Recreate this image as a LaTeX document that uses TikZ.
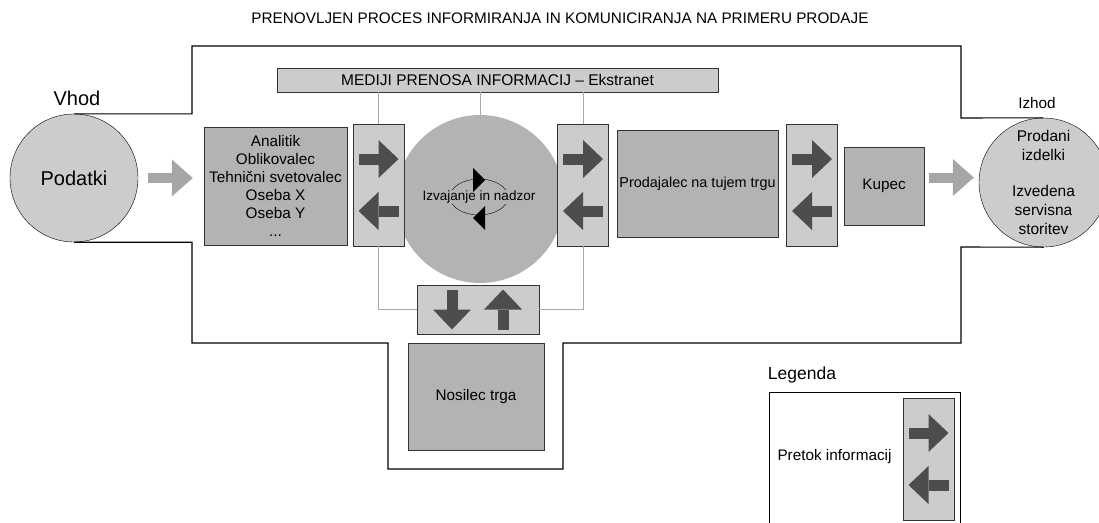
\documentclass[tikz,border=0pt]{standalone}
\usepackage{fontspec}
\setmainfont{Liberation Sans}
\usetikzlibrary{arrows.meta,calc}
\definecolor{lightfill}{HTML}{CCCCCC}
\definecolor{boxfill}{HTML}{B3B3B3}
\definecolor{flowgray}{HTML}{4D4D4D}
\definecolor{feedgray}{HTML}{A6A6A6}
\definecolor{wiregray}{HTML}{A8A8A8}
\tikzset{
  >=latex,
  every node/.style={font=\fontsize{15.3}{18}\selectfont, inner sep=0pt},
  actor/.style={draw=black!80, fill=boxfill, align=center},
  flowbox/.style={draw=black!80, fill=lightfill, minimum width=51pt, minimum height=122pt},
  endpoint/.style={circle, draw=black, fill=lightfill, align=center},
  flow/.style={draw=flowgray, line width=11pt, -{Triangle[length=20pt,width=38pt,line width=0pt]}},
  feed/.style={draw=feedgray, line width=10pt, -{Triangle[length=21pt,width=37pt,line width=0pt]}},
  wire/.style={draw=wiregray, line width=1pt}
}

\begin{document}
\begin{tikzpicture}[x=1pt,y=-1pt]
  \useasboundingbox (0,0) rectangle (1099,522);
  \node[anchor=base, font=\fontsize{15.3}{18}\selectfont] (title) at (560,23)
    {PRENOVLJEN PROCES INFORMIRANJA IN KOMUNICIRANJA NA PRIMERU PRODAJE};
  \node[endpoint, minimum size=128pt, font=\fontsize{20}{24}\selectfont] (podatki) at (74,178) {Podatki};
  \node[font=\fontsize{20}{24}\selectfont] (vhod) at (77,98) {Vhod};
  \node[endpoint, minimum size=129pt, font=\fontsize{15.5}{19}\selectfont] (izhod) at (1043.5,182.5)
    {Prodani\\izdelki\\[17pt]Izvedena\\servisna\\storitev};
  \node (izhodlbl) at (1037,103) {Izhod};

  \node[circle, fill=boxfill, minimum size=168pt] (hub) at (480,199) {};
  \coordinate (loop) at (479,197);
  \draw (loop) ellipse (29 and 18);
  \node[fill=boxfill, inner sep=1pt, font=\fontsize{13.5}{16}\selectfont] (nadzor) at (loop) {Izvajanje in nadzor};
  \fill ($(loop)+(-6,-29)$) -- ($(loop)+(6,-17)$) -- ($(loop)+(-6,-5)$) -- cycle;
  \fill ($(loop)+(6,9)$) -- ($(loop)+(-6,21)$) -- ($(loop)+(6,33)$) -- cycle;

  \node[draw=black!80, fill=lightfill, minimum width=441pt, minimum height=24pt,
    font=\fontsize{15.5}{18}\selectfont] (media) at (497.5,80) {MEDIJI PRENOSA INFORMACIJ – Ekstranet};
  \node[flowbox] (fl1) at (378.5,185) {};
  \node[flowbox] (fl2) at (583,185) {};
  \node[flowbox] (fl3) at (812,185) {};
  \node[flowbox, minimum width=122pt, minimum height=49pt] (fl4) at (478,309.5) {};

  \draw[wire] (media.south -| fl1) -- (fl1.north);
  \draw[wire] (fl1.south) |- (fl4.west);
  \draw[wire] (media.south -| fl2) -- (fl2.north);
  \draw[wire] (fl2.south) |- (fl4.east);
  \draw[wire] (media.south -| hub) -- (hub.north);

  \node[actor, minimum width=143pt, minimum height=118pt] (team) at (275.5,186)
    {Analitik\\Oblikovalec\\Tehnični svetovalec\\Oseba X\\Oseba Y\\...};
  \node[actor, minimum width=161pt, minimum height=107pt, font=\fontsize{14.4}{17}\selectfont] (seller)
    at (697.5,183.5) {Prodajalec na tujem trgu};
  \node[actor, minimum width=80pt, minimum height=78pt] (buyer) at (884,186) {Kupec};
  \node[actor, minimum width=136pt, minimum height=107pt] (holder) at (476,396.5) {Nosilec trga};

  \draw[line width=1.1pt] (podatki.north) -| (192,46) -| (961,118) -- (izhod.north);
  \draw[line width=1.1pt] (podatki.south) -| (192,343) -| (388,469) -| (563,343) -| (961,247) -- (izhod.south);

  \node[font=\fontsize{17.5}{20}\selectfont] (legtitle) at (802,375) {Legenda};
  \draw[line width=1pt] (769,530) |- (960,392) -- (960,530);
  \node (legtext) at (834.5,457) {Pretok informacij};
  \node[flowbox] (fl5) at (928.5,459) {};

  \foreach \b in {fl1,fl2,fl3,fl5} {
    \draw[flow] ($(\b.center)+(-20,-26)$) -- ($(\b.center)+(20,-26)$);
    \draw[flow] ($(\b.center)+(20,26)$) -- ($(\b.center)+(-20,26)$);
  }
  \draw[flow] ($(fl4.center)+(-26,-20)$) -- ($(fl4.center)+(-26,20)$);
  \draw[flow] ($(fl4.center)+(25,20)$) -- ($(fl4.center)+(25,-20)$);

  \draw[feed] ($(podatki.east)+(10,0)$) -- ($(team.west |- podatki.east)+(-11,0)$);
  \draw[feed] ($(buyer.east)+(5,-8.5)$) -- ($(izhod.west)+(-5,-5)$);
\end{tikzpicture}
\end{document}
